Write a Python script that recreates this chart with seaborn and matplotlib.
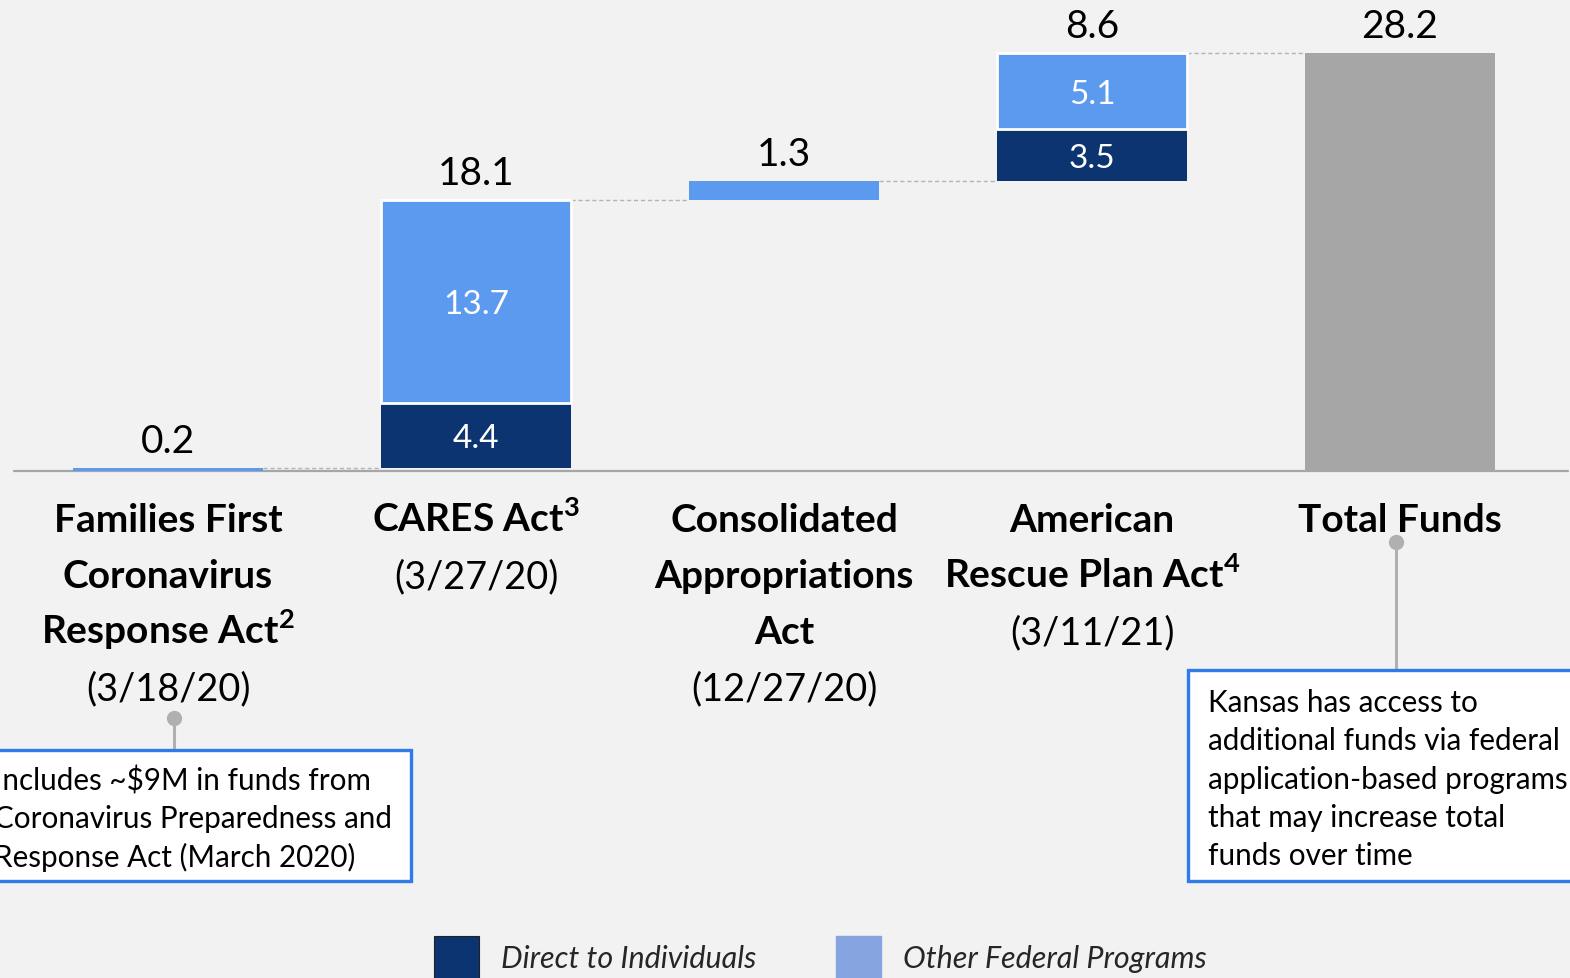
import matplotlib
matplotlib.use("Agg")
import matplotlib.pyplot as plt
from matplotlib.patches import Rectangle, Patch
from matplotlib.transforms import blended_transform_factory
import seaborn as sns
import pandas as pd
import numpy as np

# values in $B
categories = ["Families First", "CARES", "Consolidated", "American Rescue Plan", "Total Funds"]
direct = [0.0, 4.4, 0.0, 3.5]
other = [0.2, 13.7, 1.3, 5.1]
title_lines = [
    ["Families First", "Coronavirus", r"Response Act$^{\mathbf{2}}$"],
    [r"CARES Act$^{\mathbf{3}}$"],
    ["Consolidated", "Appropriations", "Act"],
    ["American", r"Rescue Plan Act$^{\mathbf{4}}$"],
    ["Total Funds"],
]
dates = ["(3/18/20)", "(3/27/20)", "(12/27/20)", "(3/11/21)", ""]
note_left = ["Includes ~$9M in funds from", "Coronavirus Preparedness and",
             "Response Act (March 2020)"]
note_right = ["Kansas has access to", "additional funds via federal",
              "application-based programs", "that may increase total",
              "funds over time"]
legend_labels = ["Direct to Individuals", "Other Federal Programs"]

DARK = "#0b3470"
LIGHT = "#5b9aef"
LEGEND_LIGHT = "#86a4e0"
GREY = "#a6a6a6"
BG = "#f2f2f2"
BOX = "#2f7ce8"

step = np.array(direct) + np.array(other)
base = np.concatenate([[0], np.cumsum(step)[:-1]])
total = step.sum()

sns.set_theme(style="white")
plt.rcParams["font.family"] = ["Lato", "DejaVu Sans"]
plt.rcParams["mathtext.fontset"] = "custom"
plt.rcParams["mathtext.rm"] = "Lato"
plt.rcParams["mathtext.bf"] = "Lato:bold"

W, H = 1570, 979
fig = plt.figure(figsize=(W / 100, H / 100), dpi=100, facecolor=BG)
ax = fig.add_axes([0, 0, 1, 1])
ax.set_facecolor(BG)

# waterfall bars
dark_df = pd.DataFrame({"cat": categories[:4], "val": direct, "bottom": base})
dark_df = dark_df[dark_df["val"] > 0]
sns.barplot(data=dark_df, x="cat", y="val", order=categories, color=DARK,
            width=0.62, saturation=1, linewidth=0, bottom=dark_df["bottom"].values, ax=ax)

light_df = pd.DataFrame({"cat": categories[:4], "val": other,
                         "bottom": base + np.array(direct)})
sns.barplot(data=light_df, x="cat", y="val", order=categories, color=LIGHT,
            width=0.62, saturation=1, bottom=light_df["bottom"].values, ax=ax)
for p in ax.containers[-1]:
    if p.get_height() > 2:
        p.set_edgecolor("white")
        p.set_linewidth(2)
    else:
        p.set_linewidth(0)

tot_df = pd.DataFrame({"cat": [categories[4]], "val": [total]})
sns.barplot(data=tot_df, x="cat", y="val", order=categories, color=GREY,
            width=0.62, saturation=1, linewidth=0, ax=ax)

# px -> data scale
X0, DX = 168, 308
Y0, DY = 472, 14.82
ax.set_xlim(-X0 / DX, (W - X0) / DX)
ax.set_ylim(-(H - Y0) / DY, Y0 / DY)
ax.set_axis_off()

# baseline
ax.plot([(14 - X0) / DX, (1568 - X0) / DX], [0, 0], color=GREY, lw=1.6, zorder=0.5)

# dashed connectors
tops = list(base + step) + [total]
hw = 0.31
for i in range(4):
    ax.plot([i + hw, i + 1 - hw], [tops[i], tops[i]], color="#b4b4b4",
            lw=1, ls=(0, (3, 2)), zorder=0.5)

# value labels
OFF = 1.8
for i in range(4):
    ax.text(i, tops[i] + OFF, f"{step[i]:.1f}", ha="center", va="center",
            fontsize=28, color="black")
    if direct[i] > 0:
        ax.text(i, base[i] + direct[i] / 2 - 0.2, f"{direct[i]:.1f}", ha="center",
                va="center", fontsize=24, color="white")
        ax.text(i, base[i] + direct[i] + other[i] / 2 - 0.2, f"{other[i]:.1f}",
                ha="center", va="center", fontsize=24, color="white")
ax.text(4, total + OFF, f"{total:.1f}", ha="center", va="center", fontsize=28,
        color="black")

# category labels (baselines)
tb = blended_transform_factory(ax.transData, fig.transFigure)
line_y = [532, 588, 644, 700]
for i in range(5):
    lines = title_lines[i]
    for j, t in enumerate(lines):
        ax.text(i, 1 - line_y[j] / H, t, transform=tb, ha="center",
                va="baseline", fontsize=28, fontweight="bold", color="black")
    if dates[i]:
        ax.text(i, 1 - line_y[len(lines)] / H, dates[i], transform=tb,
                ha="center", va="baseline", fontsize=27.3, color="black")


def fx(px):
    return px / W


def fy(py):
    return 1 - py / H


# note boxes with connectors
def note(x0, y0, x1, y1, dot_x, dot_y, lines, tx, ty):
    ax.add_patch(Rectangle((fx(x0), fy(y1)), fx(x1) - fx(x0), fy(y0) - fy(y1),
                           transform=fig.transFigure, facecolor="white",
                           edgecolor=BOX, lw=2.4, clip_on=False, zorder=3))
    ax.plot([fx(dot_x), fx(dot_x)], [fy(dot_y), fy(y0)], transform=fig.transFigure,
            color="#b0b0b0", lw=2.2, zorder=2)
    ax.plot([fx(dot_x)], [fy(dot_y)], transform=fig.transFigure, marker="o",
            ms=10, color="#b0b0b0", zorder=2)
    for k, t in enumerate(lines):
        ax.text(fx(tx), fy(ty + 38.3 * k), t, transform=fig.transFigure,
                ha="left", va="center", fontsize=21.3, color="black", zorder=4)


note(-10, 751, 411, 882, 174, 719, note_left, -6, 781)
note(1188, 671, 1590, 882, 1396, 543, note_right, 1208, 703)

# legend
handles = [Patch(facecolor=DARK, edgecolor="#222222", lw=0.8),
           Patch(facecolor=LEGEND_LIGHT, edgecolor=LEGEND_LIGHT)]
leg = fig.legend(handles, legend_labels, loc="upper left",
                 bbox_to_anchor=(fx(434), fy(937)), ncol=2, frameon=False,
                 prop={"size": 22, "style": "italic"}, handlelength=1.47,
                 handleheight=1.8, handletextpad=0.72, columnspacing=2.62,
                 borderpad=0, borderaxespad=0)

fig.savefig("out.png", dpi=100, facecolor=BG)
